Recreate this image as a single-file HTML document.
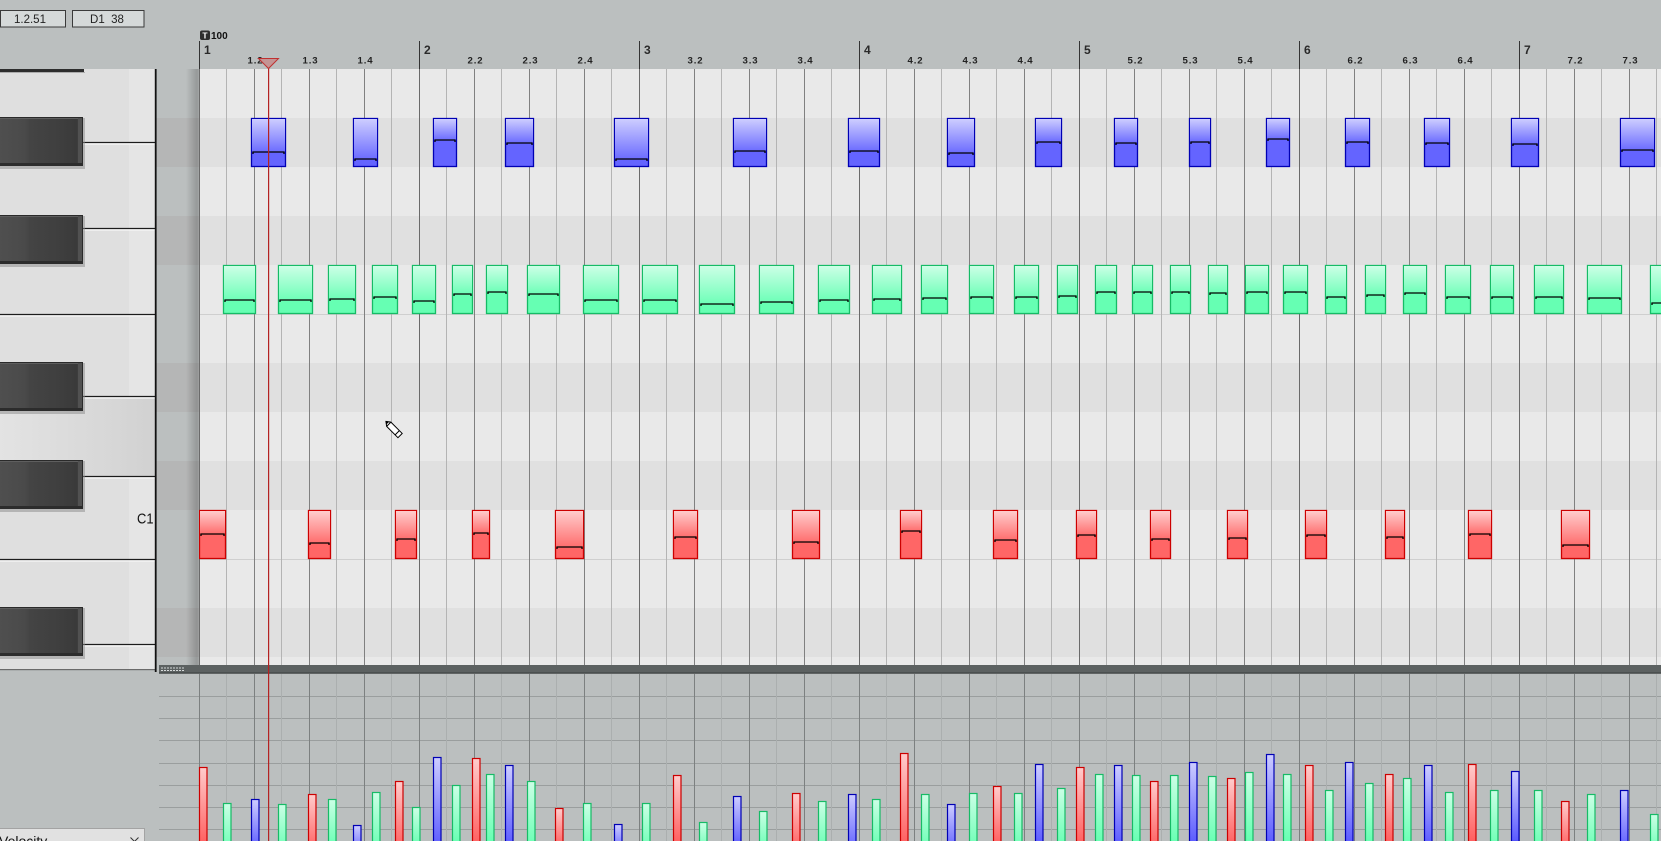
<!DOCTYPE html>
<html><head><meta charset="utf-8"><style>
html,body{margin:0;padding:0;background:#bbbfbf;overflow:hidden;width:1661px;height:841px}
svg{display:block}
.b{fill:#6464ff;stroke:#0000b4;stroke-width:1.3}
.g{fill:#66ffb3;stroke:#16bb66;stroke-width:1.3}
.r{fill:#ff6666;stroke:#cc0000;stroke-width:1.3}
.v{fill:none;stroke:#000;stroke-width:1.3}
.vb{fill:url(#vB);stroke:#0000b4;stroke-width:1.2}
.vg{fill:url(#vG);stroke:#16bb66;stroke-width:1.2}
.vr{fill:url(#vR);stroke:#cc0000;stroke-width:1.2}
.hl{font-family:"Liberation Sans",sans-serif;font-weight:bold;font-size:9.6px;fill:#222;letter-spacing:0.9px;text-anchor:middle}
.bn{font-family:"Liberation Sans",sans-serif;font-weight:bold;font-size:12px;fill:#2a2a2a}
</style></head><body>
<svg width="1661" height="841" viewBox="0 0 1661 841" xmlns="http://www.w3.org/2000/svg">
<defs>
<linearGradient id="gB" x1="0" y1="0" x2="0" y2="1"><stop offset="0" stop-color="#cdcdff"/><stop offset="1" stop-color="#6c6cff"/></linearGradient>
<linearGradient id="gG" x1="0" y1="0" x2="0" y2="1"><stop offset="0" stop-color="#ccffe6"/><stop offset="1" stop-color="#6effb8"/></linearGradient>
<linearGradient id="gR" x1="0" y1="0" x2="0" y2="1"><stop offset="0" stop-color="#ffcccc"/><stop offset="1" stop-color="#ff6e6e"/></linearGradient>
<linearGradient id="vB" x1="0" y1="0" x2="0" y2="1"><stop offset="0" stop-color="#cdcdff"/><stop offset="1" stop-color="#5a5aff"/></linearGradient>
<linearGradient id="vG" x1="0" y1="0" x2="0" y2="1"><stop offset="0" stop-color="#ccffe6"/><stop offset="1" stop-color="#62ffb0"/></linearGradient>
<linearGradient id="vR" x1="0" y1="0" x2="0" y2="1"><stop offset="0" stop-color="#ffcccc"/><stop offset="1" stop-color="#ff5a5a"/></linearGradient>
<linearGradient id="sg" x1="0" y1="0" x2="1" y2="0"><stop offset="0" stop-color="#000" stop-opacity="0"/><stop offset="0.85" stop-color="#000" stop-opacity="0.2"/><stop offset="1" stop-color="#000" stop-opacity="0.12"/></linearGradient>
<linearGradient id="bkg" x1="0" y1="0" x2="1" y2="0"><stop offset="0" stop-color="#4f4f4f"/><stop offset="0.3" stop-color="#4a4a4a"/><stop offset="0.36" stop-color="#444"/><stop offset="0.7" stop-color="#3f3f3f"/><stop offset="0.92" stop-color="#3a3a3a"/><stop offset="1" stop-color="#4c4c4c"/></linearGradient>
<linearGradient id="hk" x1="0" y1="0" x2="1" y2="0"><stop offset="0" stop-color="#e3e3e3"/><stop offset="0.4" stop-color="#dcdcdc"/><stop offset="0.7" stop-color="#d7d7d7"/><stop offset="1" stop-color="#d1d1d1"/></linearGradient>
<g id="bk">
<rect x="0" y="1" width="85" height="51" fill="#8a8a8a" opacity="0.5"/>
<rect x="0" y="0" width="83" height="49" fill="url(#bkg)"/>
<rect x="0" y="0" width="83" height="1" fill="#2a2a2a"/>
<rect x="0" y="1" width="82" height="1" fill="#5e5e5e"/>
<rect x="78" y="1" width="4" height="46" fill="#515151"/>
<rect x="82" y="0" width="1" height="49" fill="#2a2a2a"/>
<rect x="0" y="46" width="83" height="3" fill="#2c2c2c"/>
</g>
</defs>

<!-- background -->
<rect x="0" y="0" width="1661" height="841" fill="#bbbfbf"/>

<!-- grid rows -->
<rect x="199" y="69" width="1462" height="596" fill="#e9e9e9"/>
<g fill="#e0e0e0">
<rect x="199" y="118" width="1462" height="49"/>
<rect x="199" y="216" width="1462" height="49"/>
<rect x="199" y="363" width="1462" height="49"/>
<rect x="199" y="461" width="1462" height="49"/>
<rect x="199" y="608" width="1462" height="49"/>
</g>
<path d="M199 314.5H1661M199 559.5H1661" stroke="#cfcfcf" stroke-width="1"/>

<!-- grid vertical lines -->
<path stroke="#b4b4b4" stroke-width="1" d="M226.5 69V665M281.5 69V665M336.5 69V665M391.5 69V665M446.5 69V665M501.5 69V665M556.5 69V665M611.5 69V665M666.5 69V665M721.5 69V665M776.5 69V665M831.5 69V665M886.5 69V665M941.5 69V665M996.5 69V665M1051.5 69V665M1106.5 69V665M1161.5 69V665M1216.5 69V665M1271.5 69V665M1326.5 69V665M1381.5 69V665M1436.5 69V665M1491.5 69V665M1546.5 69V665M1601.5 69V665M1656.5 69V665"/>
<path stroke="#808080" stroke-width="1" d="M254.5 69V665M309.5 69V665M364.5 69V665M474.5 69V665M529.5 69V665M584.5 69V665M694.5 69V665M749.5 69V665M804.5 69V665M914.5 69V665M969.5 69V665M1024.5 69V665M1134.5 69V665M1189.5 69V665M1244.5 69V665M1354.5 69V665M1409.5 69V665M1464.5 69V665M1574.5 69V665M1629.5 69V665"/>
<path stroke="#6a6a6a" stroke-width="1" d="M199.5 69V665M419.5 69V665M639.5 69V665M859.5 69V665M1079.5 69V665M1299.5 69V665M1519.5 69V665"/>

<!-- BLUE notes (row 118-167) -->
<g>
<rect class="b" x="251.5" y="118.5" width="34" height="48"/><rect x="252" y="119" width="33" height="33" fill="url(#gB)"/><path class="v" d="M253 154V152H284V154"/>
<rect class="b" x="353.5" y="118.5" width="24" height="48"/><rect x="354" y="119" width="23" height="40" fill="url(#gB)"/><path class="v" d="M355 161V159H376V161"/>
<rect class="b" x="433.5" y="118.5" width="23" height="48"/><rect x="434" y="119" width="22" height="21" fill="url(#gB)"/><path class="v" d="M435 142V140H455V142"/>
<rect class="b" x="505.5" y="118.5" width="28" height="48"/><rect x="506" y="119" width="27" height="24" fill="url(#gB)"/><path class="v" d="M507 145V143H532V145"/>
<rect class="b" x="614.5" y="118.5" width="34" height="48"/><rect x="615" y="119" width="33" height="40" fill="url(#gB)"/><path class="v" d="M616 161V159H647V161"/>
<rect class="b" x="733.5" y="118.5" width="33" height="48"/><rect x="734" y="119" width="32" height="32" fill="url(#gB)"/><path class="v" d="M735 153V151H765V153"/>
<rect class="b" x="848.5" y="118.5" width="31" height="48"/><rect x="849" y="119" width="30" height="32" fill="url(#gB)"/><path class="v" d="M850 153V151H878V153"/>
<rect class="b" x="947.5" y="118.5" width="27" height="48"/><rect x="948" y="119" width="26" height="34" fill="url(#gB)"/><path class="v" d="M949 155V153H973V155"/>
<rect class="b" x="1035.5" y="118.5" width="26" height="48"/><rect x="1036" y="119" width="25" height="23" fill="url(#gB)"/><path class="v" d="M1037 144V142H1060V144"/>
<rect class="b" x="1114.5" y="118.5" width="23" height="48"/><rect x="1115" y="119" width="22" height="24" fill="url(#gB)"/><path class="v" d="M1116 145V143H1136V145"/>
<rect class="b" x="1189.5" y="118.5" width="21" height="48"/><rect x="1190" y="119" width="20" height="23" fill="url(#gB)"/><path class="v" d="M1191 144V142H1209V144"/>
<rect class="b" x="1266.5" y="118.5" width="23" height="48"/><rect x="1267" y="119" width="22" height="20" fill="url(#gB)"/><path class="v" d="M1268 141V139H1288V141"/>
<rect class="b" x="1345.5" y="118.5" width="24" height="48"/><rect x="1346" y="119" width="23" height="23" fill="url(#gB)"/><path class="v" d="M1347 144V142H1368V144"/>
<rect class="b" x="1424.5" y="118.5" width="25" height="48"/><rect x="1425" y="119" width="24" height="24" fill="url(#gB)"/><path class="v" d="M1426 145V143H1448V145"/>
<rect class="b" x="1511.5" y="118.5" width="27" height="48"/><rect x="1512" y="119" width="26" height="25" fill="url(#gB)"/><path class="v" d="M1513 146V144H1537V146"/>
<rect class="b" x="1620.5" y="118.5" width="34" height="48"/><rect x="1621" y="119" width="33" height="31" fill="url(#gB)"/><path class="v" d="M1622 152V150H1653V152"/>
</g>

<!-- GREEN notes (row 265-314) -->
<g>
<rect class="g" x="223.5" y="265.5" width="32" height="48"/><rect x="224" y="266" width="31" height="34" fill="url(#gG)"/><path class="v" d="M225 302V300H254V302"/>
<rect class="g" x="278.5" y="265.5" width="34" height="48"/><rect x="279" y="266" width="33" height="34" fill="url(#gG)"/><path class="v" d="M280 302V300H311V302"/>
<rect class="g" x="328.5" y="265.5" width="27" height="48"/><rect x="329" y="266" width="26" height="33" fill="url(#gG)"/><path class="v" d="M330 301V299H354V301"/>
<rect class="g" x="372.5" y="265.5" width="25" height="48"/><rect x="373" y="266" width="24" height="31" fill="url(#gG)"/><path class="v" d="M374 299V297H396V299"/>
<rect class="g" x="412.5" y="265.5" width="23" height="48"/><rect x="413" y="266" width="22" height="35" fill="url(#gG)"/><path class="v" d="M414 303V301H434V303"/>
<rect class="g" x="452.5" y="265.5" width="20" height="48"/><rect x="453" y="266" width="19" height="28" fill="url(#gG)"/><path class="v" d="M454 296V294H471V296"/>
<rect class="g" x="486.5" y="265.5" width="21" height="48"/><rect x="487" y="266" width="20" height="26" fill="url(#gG)"/><path class="v" d="M488 294V292H506V294"/>
<rect class="g" x="527.5" y="265.5" width="32" height="48"/><rect x="528" y="266" width="31" height="28" fill="url(#gG)"/><path class="v" d="M529 296V294H558V296"/>
<rect class="g" x="583.5" y="265.5" width="35" height="48"/><rect x="584" y="266" width="34" height="34" fill="url(#gG)"/><path class="v" d="M585 302V300H617V302"/>
<rect class="g" x="642.5" y="265.5" width="35" height="48"/><rect x="643" y="266" width="34" height="34" fill="url(#gG)"/><path class="v" d="M644 302V300H676V302"/>
<rect class="g" x="699.5" y="265.5" width="35" height="48"/><rect x="700" y="266" width="34" height="38" fill="url(#gG)"/><path class="v" d="M701 306V304H733V306"/>
<rect class="g" x="759.5" y="265.5" width="34" height="48"/><rect x="760" y="266" width="33" height="36" fill="url(#gG)"/><path class="v" d="M761 304V302H792V304"/>
<rect class="g" x="818.5" y="265.5" width="31" height="48"/><rect x="819" y="266" width="30" height="34" fill="url(#gG)"/><path class="v" d="M820 302V300H848V302"/>
<rect class="g" x="872.5" y="265.5" width="29" height="48"/><rect x="873" y="266" width="28" height="33" fill="url(#gG)"/><path class="v" d="M874 301V299H900V301"/>
<rect class="g" x="921.5" y="265.5" width="26" height="48"/><rect x="922" y="266" width="25" height="32" fill="url(#gG)"/><path class="v" d="M923 300V298H946V300"/>
<rect class="g" x="969.5" y="265.5" width="24" height="48"/><rect x="970" y="266" width="23" height="31" fill="url(#gG)"/><path class="v" d="M971 299V297H992V299"/>
<rect class="g" x="1014.5" y="265.5" width="24" height="48"/><rect x="1015" y="266" width="23" height="31" fill="url(#gG)"/><path class="v" d="M1016 299V297H1037V299"/>
<rect class="g" x="1057.5" y="265.5" width="20" height="48"/><rect x="1058" y="266" width="19" height="30" fill="url(#gG)"/><path class="v" d="M1059 298V296H1076V298"/>
<rect class="g" x="1095.5" y="265.5" width="21" height="48"/><rect x="1096" y="266" width="20" height="26" fill="url(#gG)"/><path class="v" d="M1097 294V292H1115V294"/>
<rect class="g" x="1132.5" y="265.5" width="20" height="48"/><rect x="1133" y="266" width="19" height="26" fill="url(#gG)"/><path class="v" d="M1134 294V292H1151V294"/>
<rect class="g" x="1170.5" y="265.5" width="20" height="48"/><rect x="1171" y="266" width="19" height="26" fill="url(#gG)"/><path class="v" d="M1172 294V292H1189V294"/>
<rect class="g" x="1208.5" y="265.5" width="19" height="48"/><rect x="1209" y="266" width="18" height="27" fill="url(#gG)"/><path class="v" d="M1210 295V293H1226V295"/>
<rect class="g" x="1245.5" y="265.5" width="23" height="48"/><rect x="1246" y="266" width="22" height="26" fill="url(#gG)"/><path class="v" d="M1247 294V292H1267V294"/>
<rect class="g" x="1283.5" y="265.5" width="24" height="48"/><rect x="1284" y="266" width="23" height="26" fill="url(#gG)"/><path class="v" d="M1285 294V292H1306V294"/>
<rect class="g" x="1325.5" y="265.5" width="21" height="48"/><rect x="1326" y="266" width="20" height="31" fill="url(#gG)"/><path class="v" d="M1327 299V297H1345V299"/>
<rect class="g" x="1365.5" y="265.5" width="20" height="48"/><rect x="1366" y="266" width="19" height="29" fill="url(#gG)"/><path class="v" d="M1367 297V295H1384V297"/>
<rect class="g" x="1403.5" y="265.5" width="23" height="48"/><rect x="1404" y="266" width="22" height="27" fill="url(#gG)"/><path class="v" d="M1405 295V293H1425V295"/>
<rect class="g" x="1445.5" y="265.5" width="25" height="48"/><rect x="1446" y="266" width="24" height="31" fill="url(#gG)"/><path class="v" d="M1447 299V297H1469V299"/>
<rect class="g" x="1490.5" y="265.5" width="23" height="48"/><rect x="1491" y="266" width="22" height="31" fill="url(#gG)"/><path class="v" d="M1492 299V297H1512V299"/>
<rect class="g" x="1534.5" y="265.5" width="29" height="48"/><rect x="1535" y="266" width="28" height="31" fill="url(#gG)"/><path class="v" d="M1536 299V297H1562V299"/>
<rect class="g" x="1587.5" y="265.5" width="34" height="48"/><rect x="1588" y="266" width="33" height="32" fill="url(#gG)"/><path class="v" d="M1589 300V298H1620V300"/>
<rect class="g" x="1650.5" y="265.5" width="19" height="48"/><rect x="1651" y="266" width="18" height="37" fill="url(#gG)"/><path class="v" d="M1652 305V303H1668V305"/>
</g>

<!-- RED notes (row 510-559) -->
<g>
<rect class="r" x="199.5" y="510.5" width="26" height="48"/><rect x="200" y="511" width="25" height="23" fill="url(#gR)"/><path class="v" d="M201 536V534H224V536"/>
<rect class="r" x="308.5" y="510.5" width="22" height="48"/><rect x="309" y="511" width="21" height="32" fill="url(#gR)"/><path class="v" d="M310 545V543H329V545"/>
<rect class="r" x="395.5" y="510.5" width="21" height="48"/><rect x="396" y="511" width="20" height="28" fill="url(#gR)"/><path class="v" d="M397 541V539H415V541"/>
<rect class="r" x="472.5" y="510.5" width="17" height="48"/><rect x="473" y="511" width="16" height="22" fill="url(#gR)"/><path class="v" d="M474 535V533H488V535"/>
<rect class="r" x="555.5" y="510.5" width="28" height="48"/><rect x="556" y="511" width="27" height="36" fill="url(#gR)"/><path class="v" d="M557 549V547H582V549"/>
<rect class="r" x="673.5" y="510.5" width="24" height="48"/><rect x="674" y="511" width="23" height="26" fill="url(#gR)"/><path class="v" d="M675 539V537H696V539"/>
<rect class="r" x="792.5" y="510.5" width="27" height="48"/><rect x="793" y="511" width="26" height="31" fill="url(#gR)"/><path class="v" d="M794 544V542H818V544"/>
<rect class="r" x="900.5" y="510.5" width="21" height="48"/><rect x="901" y="511" width="20" height="20" fill="url(#gR)"/><path class="v" d="M902 533V531H920V533"/>
<rect class="r" x="993.5" y="510.5" width="24" height="48"/><rect x="994" y="511" width="23" height="29" fill="url(#gR)"/><path class="v" d="M995 542V540H1016V542"/>
<rect class="r" x="1076.5" y="510.5" width="20" height="48"/><rect x="1077" y="511" width="19" height="24" fill="url(#gR)"/><path class="v" d="M1078 537V535H1095V537"/>
<rect class="r" x="1150.5" y="510.5" width="20" height="48"/><rect x="1151" y="511" width="19" height="28" fill="url(#gR)"/><path class="v" d="M1152 541V539H1169V541"/>
<rect class="r" x="1227.5" y="510.5" width="20" height="48"/><rect x="1228" y="511" width="19" height="27" fill="url(#gR)"/><path class="v" d="M1229 540V538H1246V540"/>
<rect class="r" x="1305.5" y="510.5" width="21" height="48"/><rect x="1306" y="511" width="20" height="24" fill="url(#gR)"/><path class="v" d="M1307 537V535H1325V537"/>
<rect class="r" x="1385.5" y="510.5" width="19" height="48"/><rect x="1386" y="511" width="18" height="26" fill="url(#gR)"/><path class="v" d="M1387 539V537H1403V539"/>
<rect class="r" x="1468.5" y="510.5" width="23" height="48"/><rect x="1469" y="511" width="22" height="23" fill="url(#gR)"/><path class="v" d="M1470 536V534H1490V536"/>
<rect class="r" x="1561.5" y="510.5" width="28" height="48"/><rect x="1562" y="511" width="27" height="34" fill="url(#gR)"/><path class="v" d="M1563 547V545H1588V547"/>
</g>

<!-- left strip -->
<rect x="156" y="69" width="43" height="596" fill="#bbbfbf"/>
<g fill="#b5b6b6">
<rect x="156" y="118" width="43" height="49"/>
<rect x="156" y="216" width="43" height="49"/>
<rect x="156" y="363" width="43" height="49"/>
<rect x="156" y="461" width="43" height="49"/>
<rect x="156" y="608" width="43" height="49"/>
</g>
<rect x="186" y="69" width="13" height="596" fill="url(#sg)"/>

<!-- piano -->
<rect x="0" y="69" width="155" height="600" fill="#dfdfdf"/>
<rect x="129" y="69" width="26" height="600" fill="#e5e5e5"/>
<rect x="0" y="397" width="155" height="79" fill="url(#hk)"/>
<g stroke-width="1.3">
<path stroke="#1c1c1c" d="M83 142.5H155M83 228.5H155M0 314.5H155M83 396.5H155M83 476.5H155M0 559.5H155M83 644.5H155"/>
<path stroke="#f6f6f6" d="M83 144H155M83 230H155M0 316H155M83 398H155M83 478H155M0 561H155M83 646H155"/>
</g>
<rect x="0" y="669" width="155" height="1.2" fill="#6a6a6a"/>
<rect x="0" y="69" width="84" height="3" fill="#2d2d2d"/>
<rect x="0" y="72" width="85" height="1" fill="#8a8a8a" opacity="0.6"/>
<use href="#bk" x="0" y="117"/>
<use href="#bk" x="0" y="215"/>
<use href="#bk" x="0" y="362"/>
<use href="#bk" x="0" y="460"/>
<use href="#bk" x="0" y="607"/>
<rect x="154.8" y="69" width="1.8" height="603" fill="#111"/>
<text x="137" y="523.5" font-family="'Liberation Sans',sans-serif" font-size="14.5" fill="#111" textLength="16.5" lengthAdjust="spacingAndGlyphs">C1</text>

<!-- header bar lines -->
<path stroke="#333" stroke-width="1" d="M199.5 41V69M419.5 41V69M639.5 41V69M859.5 41V69M1079.5 41V69M1299.5 41V69M1519.5 41V69"/>

<!-- header labels -->
<g>
<text class="bn" x="204" y="54">1</text>
<text class="bn" x="424" y="54">2</text>
<text class="bn" x="644" y="54">3</text>
<text class="bn" x="864" y="54">4</text>
<text class="bn" x="1084" y="54">5</text>
<text class="bn" x="1304" y="54">6</text>
<text class="bn" x="1524" y="54">7</text>
</g>
<g>
<text class="hl" x="255.5" y="63.5">1.2</text>
<text class="hl" x="310.5" y="63.5">1.3</text>
<text class="hl" x="365.5" y="63.5">1.4</text>
<text class="hl" x="475.5" y="63.5">2.2</text>
<text class="hl" x="530.5" y="63.5">2.3</text>
<text class="hl" x="585.5" y="63.5">2.4</text>
<text class="hl" x="695.5" y="63.5">3.2</text>
<text class="hl" x="750.5" y="63.5">3.3</text>
<text class="hl" x="805.5" y="63.5">3.4</text>
<text class="hl" x="915.5" y="63.5">4.2</text>
<text class="hl" x="970.5" y="63.5">4.3</text>
<text class="hl" x="1025.5" y="63.5">4.4</text>
<text class="hl" x="1135.5" y="63.5">5.2</text>
<text class="hl" x="1190.5" y="63.5">5.3</text>
<text class="hl" x="1245.5" y="63.5">5.4</text>
<text class="hl" x="1355.5" y="63.5">6.2</text>
<text class="hl" x="1410.5" y="63.5">6.3</text>
<text class="hl" x="1465.5" y="63.5">6.4</text>
<text class="hl" x="1575.5" y="63.5">7.2</text>
<text class="hl" x="1630.5" y="63.5">7.3</text>
</g>

<!-- T100 marker -->
<rect x="200" y="30.5" width="10" height="9.5" rx="2" fill="#2e2e2e"/>
<text x="205" y="38.5" font-family="'Liberation Sans',sans-serif" font-weight="bold" font-size="8.5" fill="#fff" text-anchor="middle">T</text>
<text x="211" y="39" font-family="'Liberation Sans',sans-serif" font-weight="bold" font-size="10" fill="#111">100</text>

<!-- top boxes -->
<rect x="0.5" y="10.5" width="65" height="16.5" fill="#d5d9d9" stroke="#3a3a3a" stroke-width="1"/>
<text x="30" y="23" font-family="'Liberation Sans',sans-serif" font-size="11.5" fill="#222" text-anchor="middle">1.2.51</text>
<rect x="72.5" y="10.5" width="71.5" height="16.5" fill="#d5d9d9" stroke="#3a3a3a" stroke-width="1"/>
<text x="107" y="23" font-family="'Liberation Sans',sans-serif" font-size="11.5" fill="#222" text-anchor="middle" xml:space="preserve">D1  38</text>

<!-- divider -->
<rect x="159" y="665" width="1502" height="8" fill="#5c6161"/>
<rect x="159" y="672.5" width="1502" height="1.2" fill="#3a3e3e"/>
<path d="M161 668H185M161 670.5H185" stroke="#d5d9d9" stroke-width="1" stroke-dasharray="2 1"/>

<!-- velocity lane grid -->
<path stroke="#9a9e9e" stroke-width="1" d="M159 696.5H1661M159 718.5H1661M159 740.5H1661M159 763.5H1661M159 785.5H1661M159 807.5H1661M159 829.5H1661"/>
<path stroke="#abafaf" stroke-width="1" d="M226.5 674V841M281.5 674V841M336.5 674V841M391.5 674V841M446.5 674V841M501.5 674V841M556.5 674V841M611.5 674V841M666.5 674V841M721.5 674V841M776.5 674V841M831.5 674V841M886.5 674V841M941.5 674V841M996.5 674V841M1051.5 674V841M1106.5 674V841M1161.5 674V841M1216.5 674V841M1271.5 674V841M1326.5 674V841M1381.5 674V841M1436.5 674V841M1491.5 674V841M1546.5 674V841M1601.5 674V841M1656.5 674V841"/>
<path stroke="#7c8080" stroke-width="1" d="M199.5 674V841M254.5 674V841M309.5 674V841M364.5 674V841M419.5 674V841M474.5 674V841M529.5 674V841M584.5 674V841M639.5 674V841M694.5 674V841M749.5 674V841M804.5 674V841M859.5 674V841M914.5 674V841M969.5 674V841M1024.5 674V841M1079.5 674V841M1134.5 674V841M1189.5 674V841M1244.5 674V841M1299.5 674V841M1354.5 674V841M1409.5 674V841M1464.5 674V841M1519.5 674V841M1574.5 674V841M1629.5 674V841"/>

<!-- velocity bars -->
<g>
<rect class="vr" x="199.5" y="767.5" width="7.5" height="80"/>
<rect class="vr" x="308.5" y="794.5" width="7.5" height="60"/>
<rect class="vr" x="395.5" y="781.5" width="7.5" height="70"/>
<rect class="vr" x="472.5" y="758.5" width="7.5" height="90"/>
<rect class="vr" x="555.5" y="808.5" width="7.5" height="40"/>
<rect class="vr" x="673.5" y="775.5" width="7.5" height="70"/>
<rect class="vr" x="792.5" y="793.5" width="7.5" height="60"/>
<rect class="vr" x="900.5" y="753.5" width="7.5" height="95"/>
<rect class="vr" x="993.5" y="786.5" width="7.5" height="60"/>
<rect class="vr" x="1076.5" y="767.5" width="7.5" height="80"/>
<rect class="vr" x="1150.5" y="781.5" width="7.5" height="70"/>
<rect class="vr" x="1227.5" y="778.5" width="7.5" height="70"/>
<rect class="vr" x="1305.5" y="765.5" width="7.5" height="80"/>
<rect class="vr" x="1385.5" y="774.5" width="7.5" height="70"/>
<rect class="vr" x="1468.5" y="764.5" width="7.5" height="80"/>
<rect class="vr" x="1561.5" y="801.5" width="7.5" height="50"/>

<rect class="vg" x="223.5" y="803.5" width="7.5" height="50"/>
<rect class="vg" x="278.5" y="804.5" width="7.5" height="50"/>
<rect class="vg" x="328.5" y="799.5" width="7.5" height="50"/>
<rect class="vg" x="372.5" y="792.5" width="7.5" height="60"/>
<rect class="vg" x="412.5" y="807.5" width="7.5" height="40"/>
<rect class="vg" x="452.5" y="785.5" width="7.5" height="60"/>
<rect class="vg" x="486.5" y="774.5" width="7.5" height="70"/>
<rect class="vg" x="527.5" y="781.5" width="7.5" height="70"/>
<rect class="vg" x="583.5" y="803.5" width="7.5" height="50"/>
<rect class="vg" x="642.5" y="803.5" width="7.5" height="50"/>
<rect class="vg" x="699.5" y="822.5" width="7.5" height="30"/>
<rect class="vg" x="759.5" y="811.5" width="7.5" height="40"/>
<rect class="vg" x="818.5" y="801.5" width="7.5" height="50"/>
<rect class="vg" x="872.5" y="799.5" width="7.5" height="50"/>
<rect class="vg" x="921.5" y="794.5" width="7.5" height="60"/>
<rect class="vg" x="969.5" y="793.5" width="7.5" height="60"/>
<rect class="vg" x="1014.5" y="793.5" width="7.5" height="60"/>
<rect class="vg" x="1057.5" y="788.5" width="7.5" height="60"/>
<rect class="vg" x="1095.5" y="774.5" width="7.5" height="70"/>
<rect class="vg" x="1132.5" y="775.5" width="7.5" height="70"/>
<rect class="vg" x="1170.5" y="775.5" width="7.5" height="70"/>
<rect class="vg" x="1208.5" y="776.5" width="7.5" height="70"/>
<rect class="vg" x="1245.5" y="772.5" width="7.5" height="70"/>
<rect class="vg" x="1283.5" y="774.5" width="7.5" height="70"/>
<rect class="vg" x="1325.5" y="790.5" width="7.5" height="60"/>
<rect class="vg" x="1365.5" y="783.5" width="7.5" height="60"/>
<rect class="vg" x="1403.5" y="778.5" width="7.5" height="70"/>
<rect class="vg" x="1445.5" y="792.5" width="7.5" height="60"/>
<rect class="vg" x="1490.5" y="790.5" width="7.5" height="60"/>
<rect class="vg" x="1534.5" y="790.5" width="7.5" height="60"/>
<rect class="vg" x="1587.5" y="794.5" width="7.5" height="60"/>
<rect class="vg" x="1650.5" y="814.5" width="7.5" height="40"/>

<rect class="vb" x="251.5" y="799.5" width="7.5" height="50"/>
<rect class="vb" x="353.5" y="825.5" width="7.5" height="30"/>
<rect class="vb" x="433.5" y="757.5" width="7.5" height="90"/>
<rect class="vb" x="505.5" y="765.5" width="7.5" height="80"/>
<rect class="vb" x="614.5" y="824.5" width="7.5" height="30"/>
<rect class="vb" x="733.5" y="796.5" width="7.5" height="50"/>
<rect class="vb" x="848.5" y="794.5" width="7.5" height="60"/>
<rect class="vb" x="947.5" y="804.5" width="7.5" height="50"/>
<rect class="vb" x="1035.5" y="764.5" width="7.5" height="80"/>
<rect class="vb" x="1114.5" y="765.5" width="7.5" height="80"/>
<rect class="vb" x="1189.5" y="762.5" width="7.5" height="80"/>
<rect class="vb" x="1266.5" y="754.5" width="7.5" height="90"/>
<rect class="vb" x="1345.5" y="762.5" width="7.5" height="80"/>
<rect class="vb" x="1424.5" y="765.5" width="7.5" height="80"/>
<rect class="vb" x="1511.5" y="771.5" width="7.5" height="70"/>
<rect class="vb" x="1620.5" y="790.5" width="7.5" height="60"/>
</g>

<!-- playhead -->
<rect x="268" y="68" width="1.2" height="773" fill="#b42222"/>
<polygon points="258.5,58.5 278.5,58.5 268.5,68.5" fill="#c49494" stroke="#c03030" stroke-width="1"/>

<!-- velocity dropdown -->
<rect x="-1" y="828.5" width="145.5" height="16" fill="#e1e1e1" stroke="#a3a3a3" stroke-width="1"/>
<text x="-1" y="846" font-family="'Liberation Sans',sans-serif" font-size="14" fill="#111">Velocity</text>
<path d="M130.5 837.5L134.5 841.5L138.5 837.5" fill="none" stroke="#333" stroke-width="1"/>

<!-- pencil cursor -->
<g transform="translate(393,428.5) rotate(45)">
<polygon points="-10,0 -6,-3 10,-3 10,3 -6,3" fill="#fff" stroke="#000" stroke-width="1"/>
<polygon points="-10,0 -7.5,-1.8 -7.5,1.8" fill="#000"/>
<path d="M-6 -3V3M6 -3V3" stroke="#000" stroke-width="1"/>
</g>
</svg>
</body></html>
